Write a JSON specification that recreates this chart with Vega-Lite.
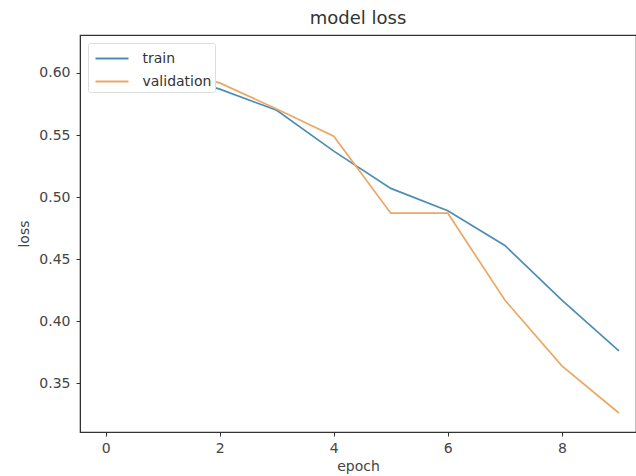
{
  "$schema": "https://vega.github.io/schema/vega-lite/v6.json",
  "autosize": {"type": "none"},
  "padding": {"left": 80, "top": 35, "right": 0, "bottom": 44},
  "width": 556,
  "height": 397,
  "background": "white",
  "title": {"text": "model loss", "fontSize": 18, "font": "DejaVu Sans", "fontWeight": "normal", "color": "#333333", "offset": 7},
  "data": {
    "values": [
      {"epoch": 0, "loss": 0.616, "series": "train"},
      {"epoch": 1, "loss": 0.601, "series": "train"},
      {"epoch": 2, "loss": 0.587, "series": "train"},
      {"epoch": 3, "loss": 0.570, "series": "train"},
      {"epoch": 4, "loss": 0.537, "series": "train"},
      {"epoch": 5, "loss": 0.507, "series": "train"},
      {"epoch": 6, "loss": 0.489, "series": "train"},
      {"epoch": 7, "loss": 0.461, "series": "train"},
      {"epoch": 8, "loss": 0.417, "series": "train"},
      {"epoch": 9, "loss": 0.376, "series": "train"},
      {"epoch": 0, "loss": 0.611, "series": "validation"},
      {"epoch": 1, "loss": 0.603, "series": "validation"},
      {"epoch": 2, "loss": 0.592, "series": "validation"},
      {"epoch": 3, "loss": 0.571, "series": "validation"},
      {"epoch": 4, "loss": 0.549, "series": "validation"},
      {"epoch": 5, "loss": 0.487, "series": "validation"},
      {"epoch": 6, "loss": 0.487, "series": "validation"},
      {"epoch": 7, "loss": 0.417, "series": "validation"},
      {"epoch": 8, "loss": 0.364, "series": "validation"},
      {"epoch": 9, "loss": 0.326, "series": "validation"}
    ]
  },
  "mark": {"type": "line", "strokeWidth": 1.7, "clip": true},
  "encoding": {
    "x": {
      "field": "epoch", "type": "quantitative",
      "scale": {"domain": [-0.45, 9.3], "nice": false, "zero": false},
      "axis": {"values": [0, 2, 4, 6, 8], "title": "epoch", "titlePadding": 4, "labelPadding": 5}
    },
    "y": {
      "field": "loss", "type": "quantitative",
      "scale": {"domain": [0.3107, 0.6306], "nice": false, "zero": false},
      "axis": {"values": [0.35, 0.40, 0.45, 0.50, 0.55, 0.60], "format": ".2f", "title": "loss", "titlePadding": 7, "labelPadding": 6}
    },
    "color": {
      "field": "series", "type": "nominal",
      "scale": {"domain": ["train", "validation"], "range": ["#4e8db3", "#eba863"]},
      "legend": {
        "title": null, "orient": "none", "legendX": 8, "legendY": 8,
        "symbolType": "M-1.5,0L1.5,0", "symbolSize": 484, "symbolStrokeWidth": 2,
        "symbolOffset": 8.5, "labelOffset": 18.5,
        "labelFontSize": 14, "labelFont": "DejaVu Sans", "labelColor": "#333333",
        "fillColor": "white", "strokeColor": "#dddddd", "padding": 3.5, "rowPadding": 4, "cornerRadius": 2
      }
    }
  },
  "config": {
    "view": {"stroke": "#333333", "strokeWidth": 1.2},
    "axis": {
      "grid": false, "domainColor": "#333333", "tickColor": "#333333", "tickSize": 4,
      "labelFont": "DejaVu Sans", "labelFontSize": 14, "labelColor": "#444444",
      "titleFont": "DejaVu Sans", "titleFontSize": 14, "titleFontWeight": "normal", "titleColor": "#444444"
    }
  }
}
